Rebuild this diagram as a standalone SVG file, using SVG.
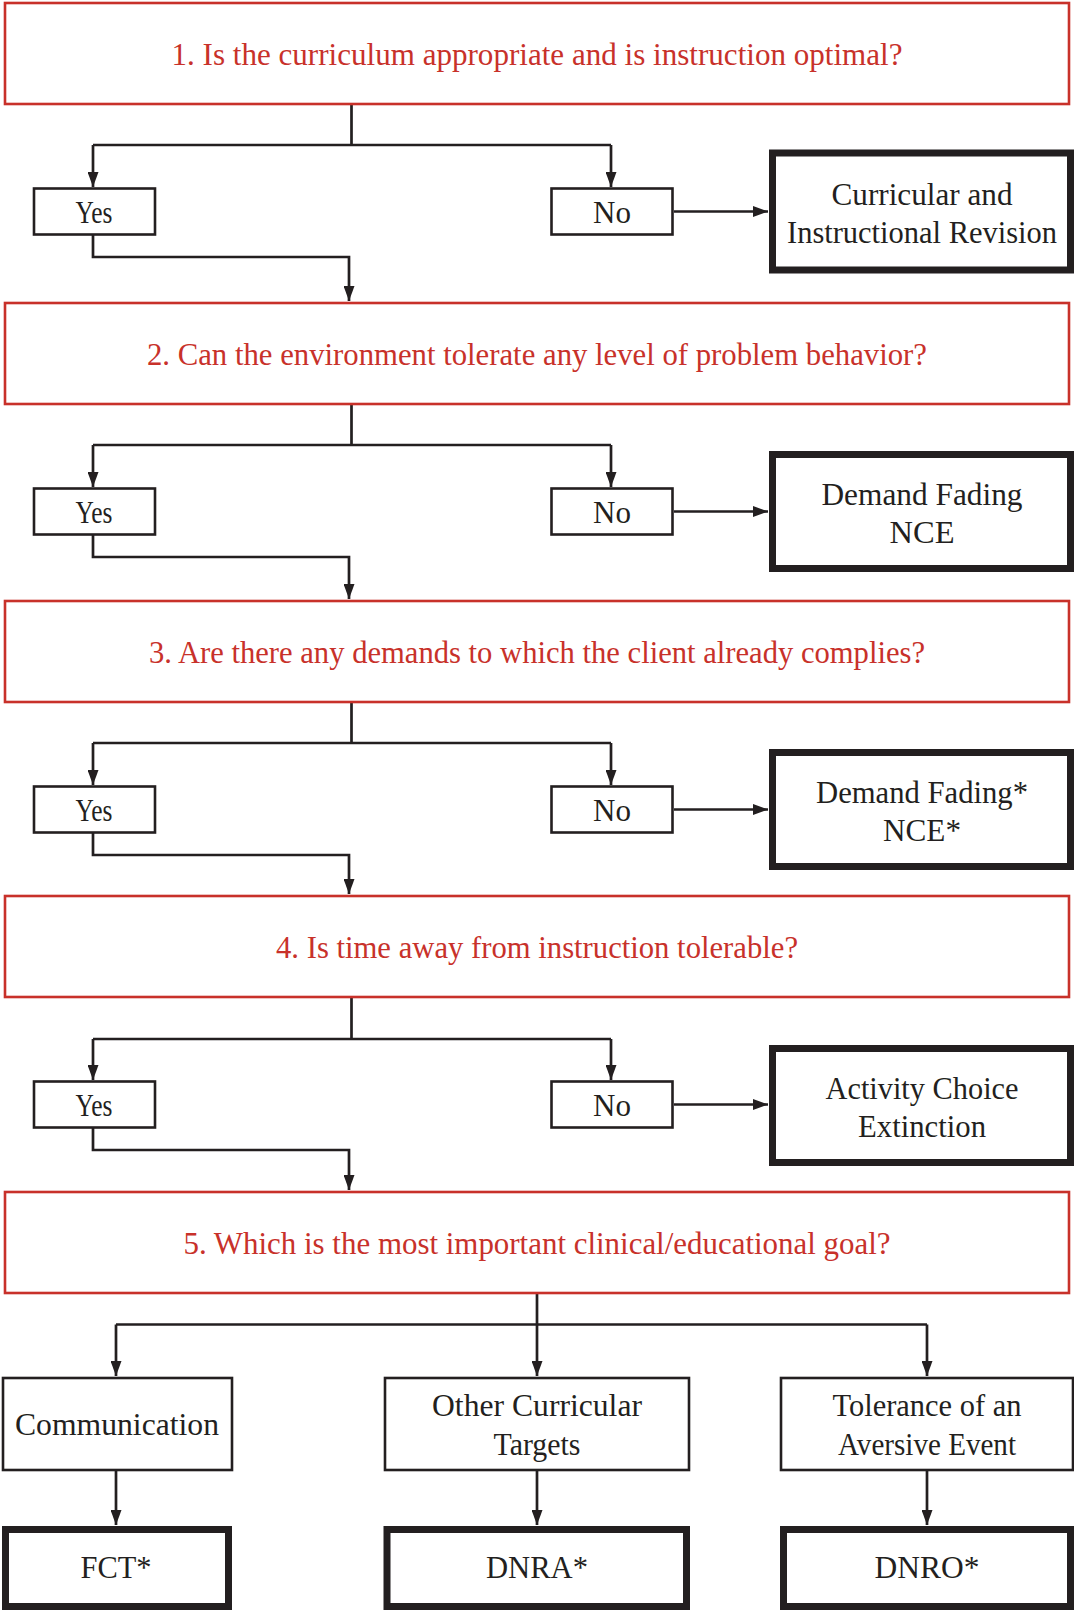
<svg xmlns="http://www.w3.org/2000/svg" width="1074" height="1611" viewBox="0 0 1074 1611">
<defs>
<marker id="ah" markerUnits="userSpaceOnUse" markerWidth="16" markerHeight="11" refX="15" refY="5.5" orient="auto" viewBox="0 0 16 11">
<path d="M0,0 L15,5.5 L0,11 z" fill="#231f20"/>
</marker>
<style>
.q{fill:#fff;stroke:#c8312a;stroke-width:2.6}
.b{fill:#fff;stroke:#231f20;stroke-width:2.6}
.t{fill:#fff;stroke:#231f20;stroke-width:7}
.qt{font-family:"Liberation Serif","Times New Roman",serif;font-size:30.8px;fill:#c8312a;text-anchor:middle}
.bt{font-family:"Liberation Serif","Times New Roman",serif;font-size:31px;fill:#231f20;text-anchor:middle}
.c{fill:none;stroke:#231f20;stroke-width:2.7}
.a{fill:none;stroke:#231f20;stroke-width:2.7;marker-end:url(#ah)}
</style>
</defs>
<rect width="1074" height="1611" fill="#fff"/>

<g id="connectors">
<path class="c" d="M351.5,104 V145 M93,145 H611"/>
<path class="a" d="M93,145 V187"/>
<path class="a" d="M611,145 V187"/>
<path class="a" d="M674,211.5 H768"/>
<path class="a" d="M93,235 V257 H349 V301"/>
<path class="c" d="M351.5,404 V445 M93,445 H611"/>
<path class="a" d="M93,445 V487"/>
<path class="a" d="M611,445 V487"/>
<path class="a" d="M674,511.5 H768"/>
<path class="a" d="M93,535 V557 H349 V599"/>
<path class="c" d="M351.5,702 V743 M93,743 H611"/>
<path class="a" d="M93,743 V785"/>
<path class="a" d="M611,743 V785"/>
<path class="a" d="M674,809.5 H768"/>
<path class="a" d="M93,833 V855 H349 V894"/>
<path class="c" d="M351.5,997 V1039 M93,1039 H611"/>
<path class="a" d="M93,1039 V1080"/>
<path class="a" d="M611,1039 V1080"/>
<path class="a" d="M674,1104.5 H768"/>
<path class="a" d="M93,1128 V1150 H349 V1190"/>
<path class="c" d="M116,1324.5 H927"/>
<path class="a" d="M537,1293 V1376"/>
<path class="a" d="M116,1324.5 V1376"/>
<path class="a" d="M927,1324.5 V1376"/>
<path class="a" d="M116,1470 V1525"/>
<path class="a" d="M537,1471 V1525"/>
<path class="a" d="M927,1471 V1525"/>
</g>

<g id="q1"><rect class="q" x="5" y="3" width="1064" height="101"/><text class="qt" x="537" y="65" textLength="731" lengthAdjust="spacingAndGlyphs">1. Is the curriculum appropriate and is instruction optimal?</text></g>
<g id="yes1"><rect class="b" x="34" y="188.5" width="121" height="46"/><text class="bt" x="94" y="222.5" textLength="37" lengthAdjust="spacingAndGlyphs">Yes</text></g>
<g id="no1"><rect class="b" x="551.5" y="188.5" width="121" height="46"/><text class="bt" x="612" y="222.5" textLength="38" lengthAdjust="spacingAndGlyphs">No</text></g>
<g id="r1"><rect class="t" x="772.5" y="153" width="298" height="117"/><text class="bt" x="922" y="205" textLength="181" lengthAdjust="spacingAndGlyphs">Curricular and</text><text class="bt" x="922" y="243" textLength="270" lengthAdjust="spacingAndGlyphs">Instructional Revision</text></g>

<g id="q2"><rect class="q" x="5" y="303" width="1064" height="101"/><text class="qt" x="537" y="365" textLength="780" lengthAdjust="spacingAndGlyphs">2. Can the environment tolerate any level of problem behavior?</text></g>
<g id="yes2"><rect class="b" x="34" y="488.5" width="121" height="46"/><text class="bt" x="94" y="522.5" textLength="37" lengthAdjust="spacingAndGlyphs">Yes</text></g>
<g id="no2"><rect class="b" x="551.5" y="488.5" width="121" height="46"/><text class="bt" x="612" y="522.5" textLength="38" lengthAdjust="spacingAndGlyphs">No</text></g>
<g id="r2"><rect class="t" x="772.5" y="454.5" width="298" height="114"/><text class="bt" x="922" y="505" textLength="201" lengthAdjust="spacingAndGlyphs">Demand Fading</text><text class="bt" x="922" y="543" textLength="65" lengthAdjust="spacingAndGlyphs">NCE</text></g>

<g id="q3"><rect class="q" x="5" y="601" width="1064" height="101"/><text class="qt" x="537" y="663" textLength="776" lengthAdjust="spacingAndGlyphs">3. Are there any demands to which the client already complies?</text></g>
<g id="yes3"><rect class="b" x="34" y="786.5" width="121" height="46"/><text class="bt" x="94" y="820.5" textLength="37" lengthAdjust="spacingAndGlyphs">Yes</text></g>
<g id="no3"><rect class="b" x="551.5" y="786.5" width="121" height="46"/><text class="bt" x="612" y="820.5" textLength="38" lengthAdjust="spacingAndGlyphs">No</text></g>
<g id="r3"><rect class="t" x="772.5" y="752.5" width="298" height="114"/><text class="bt" x="922" y="803" textLength="212" lengthAdjust="spacingAndGlyphs">Demand Fading*</text><text class="bt" x="922" y="841" textLength="78" lengthAdjust="spacingAndGlyphs">NCE*</text></g>

<g id="q4"><rect class="q" x="5" y="896" width="1064" height="101"/><text class="qt" x="537" y="958" textLength="522" lengthAdjust="spacingAndGlyphs">4. Is time away from instruction tolerable?</text></g>
<g id="yes4"><rect class="b" x="34" y="1081.5" width="121" height="46"/><text class="bt" x="94" y="1115.5" textLength="37" lengthAdjust="spacingAndGlyphs">Yes</text></g>
<g id="no4"><rect class="b" x="551.5" y="1081.5" width="121" height="46"/><text class="bt" x="612" y="1115.5" textLength="38" lengthAdjust="spacingAndGlyphs">No</text></g>
<g id="r4"><rect class="t" x="772.5" y="1048.5" width="298" height="114"/><text class="bt" x="922" y="1099" textLength="193" lengthAdjust="spacingAndGlyphs">Activity Choice</text><text class="bt" x="922" y="1137" textLength="128" lengthAdjust="spacingAndGlyphs">Extinction</text></g>

<g id="q5"><rect class="q" x="5" y="1192" width="1064" height="101"/><text class="qt" x="537" y="1254" textLength="707" lengthAdjust="spacingAndGlyphs">5. Which is the most important clinical/educational goal?</text></g>

<g id="comm"><rect class="b" x="3" y="1378" width="229" height="92"/><text class="bt" x="117" y="1435" textLength="204" lengthAdjust="spacingAndGlyphs">Communication</text></g>
<g id="other"><rect class="b" x="385" y="1378" width="304" height="92"/><text class="bt" x="537" y="1416" textLength="210" lengthAdjust="spacingAndGlyphs">Other Curricular</text><text class="bt" x="537" y="1455" textLength="87" lengthAdjust="spacingAndGlyphs">Targets</text></g>
<g id="tol"><rect class="b" x="781" y="1378" width="292" height="92"/><text class="bt" x="927" y="1416" textLength="189" lengthAdjust="spacingAndGlyphs">Tolerance of an</text><text class="bt" x="927" y="1455" textLength="178" lengthAdjust="spacingAndGlyphs">Aversive Event</text></g>

<g id="fct"><rect class="t" x="5.5" y="1529.5" width="223" height="77"/><text class="bt" x="116" y="1578" textLength="71" lengthAdjust="spacingAndGlyphs">FCT*</text></g>
<g id="dnra"><rect class="t" x="387" y="1529.5" width="299.5" height="77"/><text class="bt" x="537" y="1578" textLength="102" lengthAdjust="spacingAndGlyphs">DNRA*</text></g>
<g id="dnro"><rect class="t" x="783.5" y="1529.5" width="287" height="77"/><text class="bt" x="927" y="1578" textLength="105" lengthAdjust="spacingAndGlyphs">DNRO*</text></g>
</svg>
